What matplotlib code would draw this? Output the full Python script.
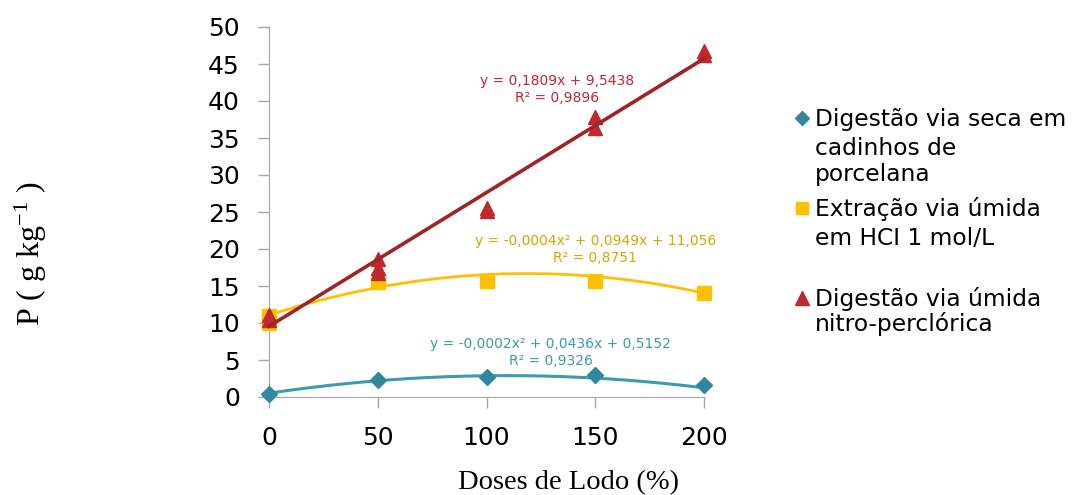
import numpy as np
import matplotlib.pyplot as plt
from matplotlib.lines import Line2D

plt.rcParams['font.family'] = ['DejaVu Sans']
plt.rcParams['mathtext.fontset'] = 'custom'
plt.rcParams['mathtext.rm'] = 'Liberation Serif'
plt.rcParams['mathtext.it'] = 'Liberation Serif'

doses = [0, 50, 100, 150, 200]

# digestão via seca em cadinhos de porcelana
seca = [0.4, 2.3, 2.7, 2.95, 1.65]
# extração via úmida em HCl 1 mol/L
hcl_x = [0, 0, 50, 100, 150, 200]
hcl = [10.0, 10.9, 15.6, 15.7, 15.7, 14.0]
# digestão via úmida nitro-perclórica (repetições)
nitro_x = [0, 0, 50, 50, 50, 100, 100, 150, 150, 200, 200]
nitro = [11.1, 10.4, 18.7, 17.4, 16.8, 25.6, 25.1, 37.8, 36.4, 46.8, 46.2]

# coeficientes das linhas de tendência (do gráfico)
coef_seca = [-0.0002, 0.0436, 0.5152]
coef_hcl = [-0.0004, 0.0949, 11.056]
coef_nitro = [0.1809, 9.5438]

legend_labels = [['Digestão via seca em', 'cadinhos de', 'porcelana'],
                 ['Extração via úmida', 'em HCI 1 mol/L'],
                 ['Digestão via úmida', 'nitro-perclórica']]

blue = '#31879D'
blue_line = '#3E9AB0'
yellow = '#FFC000'
yellow_txt = '#D9A400'
red = '#C0282D'
red_line = '#9E2426'

W, H = 1073, 495
fig = plt.figure(figsize=(W / 100, H / 100), dpi=100)
ax = fig.add_axes([269 / W, 1 - 397 / H, 435 / W, 370 / H])

xs = np.linspace(0, 200, 200)
ax.plot(xs, np.polyval(coef_seca, xs), color=blue_line, lw=2.2, zorder=2)
ax.plot(xs, np.polyval(coef_hcl, xs), color=yellow, lw=2, zorder=2)
ax.plot(xs, np.polyval(coef_nitro, xs), color=red_line, lw=2.6, zorder=4)

ax.plot(doses, seca, ls='none', marker='D', ms=8, color=blue, zorder=3)
ax.plot(hcl_x, hcl, ls='none', marker='s', ms=10, color=yellow, zorder=3)
ax.plot(nitro_x, nitro, ls='none', marker='^', ms=10, color=red, zorder=3)

ann = dict(fontsize=10, ha='center', va='center')
ax.text(132.5, 42.7, 'y = 0,1809x + 9,5438', color=red, **ann)
ax.text(132.5, 40.4, 'R² = 0,9896', color=red, **ann)
ax.text(150, 21.1, 'y = -0,0004x² + 0,0949x + 11,056', color=yellow_txt, **ann)
ax.text(150, 18.8, 'R² = 0,8751', color=yellow_txt, **ann)
ax.text(129.5, 7.2, 'y = -0,0002x² + 0,0436x + 0,5152', color=blue_line, **ann)
ax.text(129.5, 4.8, 'R² = 0,9326', color=blue_line, **ann)

ax.set_xlim(0, 200)
ax.set_ylim(0, 50)
ax.set_xticks(doses)
ax.set_yticks(range(0, 51, 5))
for s in ['top', 'right']:
    ax.spines[s].set_visible(False)
for s in ['left', 'bottom']:
    ax.spines[s].set_color('#A6A6A6')
ax.tick_params(colors='#A6A6A6', length=8, width=1, labelcolor='black',
               labelsize=18)
ax.tick_params(axis='y', pad=13)
ax.tick_params(axis='x', pad=13)
for art in ax.lines + ax.texts:
    art.set_clip_on(False)

fig.text(569 / W, 1 - 483 / H, 'Doses de Lodo (%)', family='Liberation Serif',
         fontsize=20.5, ha='center', va='center')
fig.text(31 / W, 1 - 254 / H, 'P ( g kg$^{-1}$ )', family='Liberation Serif',
         fontsize=23, ha='center', va='center', rotation=90)

# legenda
line_y = [[118, 147, 173], [208, 237], [298, 323]]
markers = [('D', 7, blue), ('s', 9, yellow), ('^', 10, red)]
for lines, ys, (m, ms, c) in zip(legend_labels, line_y, markers):
    fig.add_artist(Line2D([802 / W], [1 - ys[0] / H], transform=fig.transFigure,
                          ls='none', marker=m, ms=ms, color=c))
    for txt, y in zip(lines, ys):
        fig.text(815 / W, 1 - (y + 8) / H, txt, fontsize=16.8, ha='left',
                 va='baseline')

fig.savefig('out.png', dpi=100)
